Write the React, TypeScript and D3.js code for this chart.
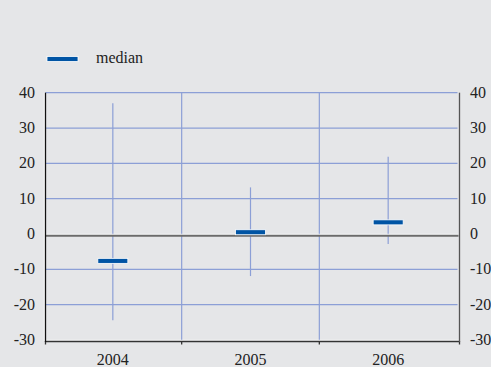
import React from "react";
import * as d3 from "d3";

const years = ["2004", "2005", "2006"];
const medianValues = [-7.6, 0.5, 3.3];
const maxValues = [37, 13.2, 21.9];
const minValues = [-24.4, -11.9, -2.8];
const yTicks = [-30, -20, -10, 0, 10, 20, 30, 40];

const W = 491;
const H = 367;
const BG = "#e5e6e8";
const GRID = "#8c9fd6";
const BLUE = "#0054a4";

export default function App() {
  const x = d3.scaleBand<string>().domain(years).range([44, 457]).padding(0);
  const y = d3.scaleLinear().domain([-30, 40]).range([340, 92.7]);
  const leftX = 45.5;
  const rightX = 459.5;
  const top = y(40);
  const bottom = y(-30);
  const boundaries = [x.range()[0], ...years.slice(1).map((d) => x(d) as number)];
  const font = "'Liberation Serif', 'Times New Roman', 'DejaVu Serif', serif";
  return (
    <div style={{ position: "absolute", left: 0, top: 0, width: W, height: H }}>
      <svg width={W} height={H} style={{ display: "block", background: BG }}>
        <rect x={0} y={0} width={W} height={H} fill={BG} />
        <text x={12} y={-5} fill="#6a9cb0" fontFamily={font} fontSize={16} textLength={472}>
          (annual percentage changes; minimum, maximum and median)
        </text>
        {/* legend */}
        <rect x={47} y={56.5} width={31} height={5} fill={BLUE} stroke="#fff" strokeWidth={0.8} />
        <text x={96} y={63} fontFamily={font} fontSize={16} fill="#222">
          median
        </text>
        {/* horizontal gridlines */}
        {yTicks
          .filter((t) => t !== 0 && t !== -30)
          .map((t) => (
            <line key={t} x1={leftX} x2={rightX - 2} y1={y(t)} y2={y(t)} stroke={GRID} strokeWidth={1.2} />
          ))}
        {/* vertical gridlines */}
        {boundaries.slice(1).map((b, i) => (
          <line key={i} x1={b} x2={b} y1={top} y2={bottom} stroke={GRID} strokeWidth={1.2} />
        ))}
        {/* whiskers */}
        {years.map((yr, i) => {
          const cx = (x(yr) as number) + x.bandwidth() / 2;
          return (
            <line key={yr} x1={cx} x2={cx} y1={y(maxValues[i])} y2={y(minValues[i])} stroke={GRID} strokeWidth={1.2} />
          );
        })}
        {/* zero line */}
        <line x1={leftX} x2={rightX - 1} y1={y(0) + 0.3} y2={y(0) + 0.3} stroke="#fff" strokeWidth={1} />
        <line x1={leftX} x2={rightX - 1} y1={y(0) + 1.8} y2={y(0) + 1.8} stroke="#6b6b6b" strokeWidth={2} />
        {/* medians */}
        {years.map((yr, i) => {
          const cx = (x(yr) as number) + x.bandwidth() / 2;
          return (
            <rect key={yr} x={cx - 15} y={y(medianValues[i]) - 2.5} width={30} height={5} fill={BLUE} stroke="#fff" strokeWidth={0.8} />
          );
        })}
        {/* bottom axis */}
        <line x1={leftX} x2={rightX} y1={bottom + 0.3} y2={bottom + 0.3} stroke="#fff" strokeWidth={1} />
        <line x1={leftX} x2={rightX} y1={bottom + 1.5} y2={bottom + 1.5} stroke="#333" strokeWidth={1.3} />
        {[leftX, ...boundaries.slice(1), rightX].map((b, i) => (
          <line key={i} x1={b} x2={b} y1={bottom + 1} y2={bottom + 4.5} stroke="#333" strokeWidth={1.3} />
        ))}
        {/* left axis */}
        <line x1={leftX - 1.2} x2={leftX - 1.2} y1={top} y2={bottom + 1} stroke="#fff" strokeWidth={1} />
        <line x1={leftX} x2={leftX} y1={top} y2={bottom + 2} stroke="#111" strokeWidth={1.3} />
        {/* right axis */}
        <line x1={rightX} x2={rightX} y1={top} y2={bottom + 2} stroke="#555" strokeWidth={1.3} />
        {/* y tick labels */}
        {yTicks.map((t) => (
          <text key={"l" + t} x={35} y={y(t) + 5} textAnchor="end" fontFamily={font} fontSize={16} fill="#222">
            {t}
          </text>
        ))}
        {yTicks.map((t) => (
          <text key={"r" + t} x={470} y={y(t) + 5} textAnchor="start" fontFamily={font} fontSize={16} fill="#222">
            {t}
          </text>
        ))}
        {/* x labels */}
        {years.map((yr) => (
          <text key={yr} x={(x(yr) as number) + x.bandwidth() / 2} y={365} textAnchor="middle" fontFamily={font} fontSize={16} fill="#222">
            {yr}
          </text>
        ))}
      </svg>
    </div>
  );
}
